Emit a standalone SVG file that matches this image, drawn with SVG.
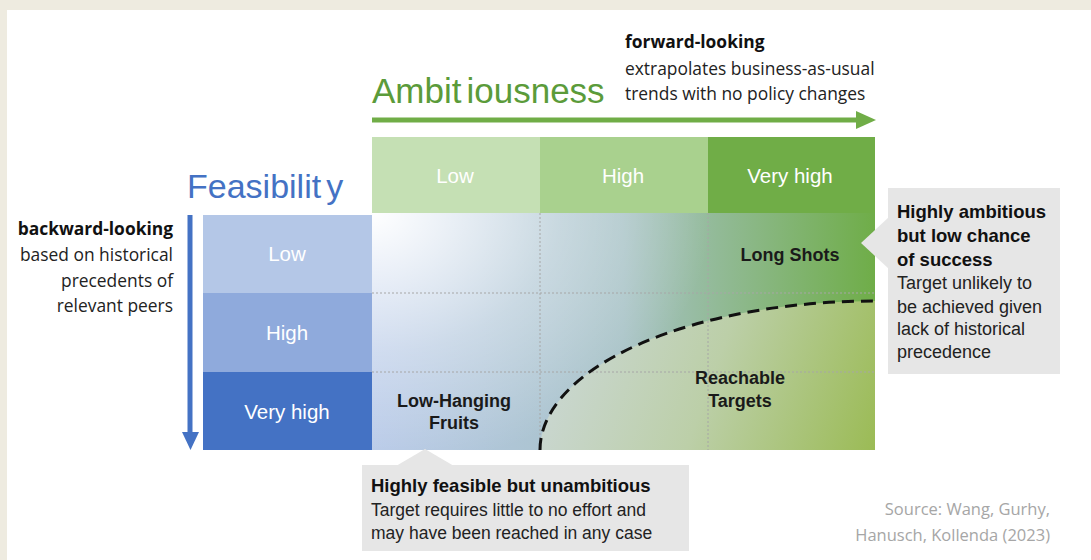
<svg xmlns="http://www.w3.org/2000/svg" width="1091" height="560" viewBox="0 0 1091 560">
<defs>
<style>
.t{font-family:"Liberation Sans",Arial,sans-serif;}
.n{font-family:"Open Sans","Liberation Sans",sans-serif;}
.cell{font-family:"Liberation Sans",Arial,sans-serif;font-size:20.5px;fill:#fff;text-anchor:middle;}
.lab{font-family:"Liberation Sans",Arial,sans-serif;font-size:18px;font-weight:bold;fill:#1a1a1a;text-anchor:middle;}
.grid{stroke:#a6a6a6;stroke-width:1;stroke-dasharray:2 2;fill:none;}
.box{fill:#e6e6e6;}
</style>
<linearGradient id="gBase" x1="0" y1="0" x2="1" y2="0">
<stop offset="0" stop-color="#b7c9e8"/>
<stop offset="0.5" stop-color="#a7c2c6"/>
<stop offset="1" stop-color="#6fad48"/>
</linearGradient>
<radialGradient id="gWhite" cx="372" cy="213" r="340" gradientUnits="userSpaceOnUse" gradientTransform="translate(372 213) scale(1 0.75) translate(-372 -213)">
<stop offset="0" stop-color="#ffffff" stop-opacity="1"/>
<stop offset="0.55" stop-color="#ffffff" stop-opacity="0.35"/>
<stop offset="1" stop-color="#ffffff" stop-opacity="0"/>
</radialGradient>
<linearGradient id="gReach" x1="540" y1="330" x2="875" y2="450" gradientUnits="userSpaceOnUse">
<stop offset="0" stop-color="#ccd8d8"/>
<stop offset="0.5" stop-color="#bccfa8"/>
<stop offset="1" stop-color="#9bbb55"/>
</linearGradient>
</defs>

<rect x="0" y="0" width="1091" height="560" fill="#ffffff"/>
<rect x="0" y="0" width="1091" height="10" fill="#eeebe0"/>
<rect x="0" y="0" width="7" height="560" fill="#eeebe0"/>

<g id="title-ambitiousness">
<text class="t" x="372" y="103" font-size="35" fill="#5b9b3a">Ambit<tspan dx="5">iousness</tspan></text>
<path d="M372,120 H858" stroke="#70ad47" stroke-width="5" fill="none"/>
<path d="M856,111 L876,120 L856,129 Z" fill="#70ad47"/>
</g>

<g id="forward-note">
<text class="n" x="625" y="48" font-size="17.4" font-weight="bold" fill="#111">forward-looking</text>
<text class="n" x="625" y="75" font-size="17.4" fill="#222">extrapolates business-as-usual</text>
<text class="n" x="625" y="100" font-size="17.4" fill="#222">trends with no policy changes</text>
</g>

<g id="title-feasibility">
<text class="t" x="187" y="198" font-size="34" fill="#4472c4">Feasibilit<tspan dx="5">y</tspan></text>
<path d="M190,215 V434" stroke="#4472c4" stroke-width="5" fill="none"/>
<path d="M182,432 L199,432 L190.5,450 Z" fill="#4472c4"/>
</g>

<g id="backward-note" text-anchor="end">
<text class="n" x="173" y="235" font-size="17.4" font-weight="bold" fill="#111">backward-looking</text>
<text class="n" x="173" y="261" font-size="17.4" fill="#222">based on historical</text>
<text class="n" x="173" y="287" font-size="17.4" fill="#222">precedents of</text>
<text class="n" x="173" y="312" font-size="17.4" fill="#222">relevant peers</text>
</g>

<g id="amb-low"><rect x="372" y="137" width="168" height="76" fill="#c5e0b4"/><text class="cell" x="455" y="183">Low</text></g>
<g id="amb-high"><rect x="540" y="137" width="168" height="76" fill="#a9d18e"/><text class="cell" x="623" y="183">High</text></g>
<g id="amb-veryhigh"><rect x="708" y="137" width="167" height="76" fill="#70ad47"/><text class="cell" x="790" y="183">Very high</text></g>

<g id="feas-low"><rect x="203" y="215" width="169" height="78" fill="#b4c7e7"/><text class="cell" x="287" y="261">Low</text></g>
<g id="feas-high"><rect x="203" y="293" width="169" height="79" fill="#8faadc"/><text class="cell" x="287" y="340">High</text></g>
<g id="feas-veryhigh"><rect x="203" y="372" width="169" height="78" fill="#4472c4"/><text class="cell" x="287" y="419">Very high</text></g>

<g id="matrix">
<rect x="372" y="213" width="503" height="237" fill="url(#gBase)"/>
<rect x="372" y="213" width="503" height="237" fill="url(#gWhite)"/>
<path d="M540,450 A335,149 0 0 1 875,301 V450 Z" fill="url(#gReach)"/>
<path class="grid" d="M540,213 V450 M708,213 V450 M372,293 H875 M372,372 H875"/>
</g>

<g id="connectors">
<path d="M540,450 A335,149 0 0 1 875,301" fill="none" stroke="#111" stroke-width="3" stroke-dasharray="12 7"/>
</g>

<g id="long-shots"><text class="lab" x="790" y="261">Long Shots</text></g>
<g id="reachable-targets"><text class="lab" x="740" y="384">Reachable</text><text class="lab" x="740" y="407">Targets</text></g>
<g id="low-hanging-fruits"><text class="lab" x="454" y="407">Low-Hanging</text><text class="lab" x="454" y="429">Fruits</text></g>

<g id="callout-right">
<rect class="box" x="888" y="188" width="172" height="186"/>
<path class="box" d="M889,217 L861,243 L889,269 Z"/>
<text class="t" x="897" y="218" font-size="18.5" font-weight="bold" fill="#111">Highly ambitious</text>
<text class="t" x="897" y="242" font-size="18.5" font-weight="bold" fill="#111">but low chance</text>
<text class="t" x="897" y="266" font-size="18.5" font-weight="bold" fill="#111">of success</text>
<text class="t" x="897" y="289" font-size="18" fill="#222">Target unlikely to</text>
<text class="t" x="897" y="313" font-size="18" fill="#222">be achieved given</text>
<text class="t" x="897" y="335" font-size="18" fill="#222">lack of historical</text>
<text class="t" x="897" y="358" font-size="18" fill="#222">precedence</text>
</g>

<g id="callout-bottom">
<rect class="box" x="362" y="465" width="327" height="86"/>
<path class="box" d="M396,466 L425,449 L454,466 Z"/>
<text class="t" x="371" y="492" font-size="18.5" font-weight="bold" fill="#111">Highly feasible but unambitious</text>
<text class="t" x="371" y="516" font-size="17.5" fill="#222">Target requires little to no effort and</text>
<text class="t" x="371" y="539" font-size="17.5" fill="#222">may have been reached in any case</text>
</g>

<g id="source" text-anchor="end">
<text class="n" x="1050" y="515" font-size="16.5" fill="#a6a6a6">Source: Wang, Gurhy,</text>
<text class="n" x="1050" y="541" font-size="16.5" fill="#a6a6a6">Hanusch, Kollenda (2023)</text>
</g>
</svg>
